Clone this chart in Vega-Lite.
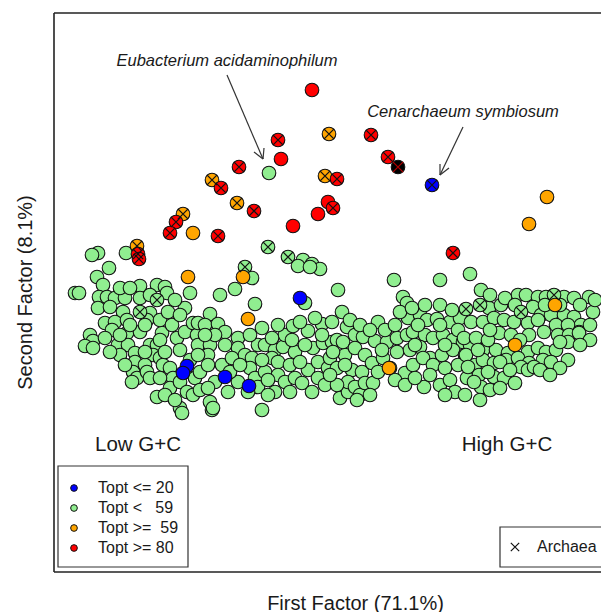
{
"$schema": "https://vega.github.io/schema/vega-lite/v6.json",
"width": 547, "height": 559,
"autosize": {"type": "none"},
"padding": {"left": 54, "top": 13, "right": 0, "bottom": 40},
"background": "white",
"config": {"view": {"stroke": null}, "axis": {"domain": false, "ticks": false, "labels": false, "grid": false, "titleFont": "Liberation Sans", "titleFontWeight": "normal", "titleColor": "#1a1a1a"}},
"datasets": {
"pts": [
{"x":-61,"y":127,"g":"g"},{"x":-62,"y":53,"g":"g","a":1},{"x":-42,"y":43,"g":"g","a":1},{"x":-85,"y":33,"g":"g","a":1},
{"x":-232,"y":47,"g":"g"},{"x":-238,"y":45,"g":"g"},{"x":-204,"y":47,"g":"g"},{"x":-27,"y":40,"g":"g"},{"x":-18,"y":36,"g":"g"},{"x":-10,"y":31,"g":"g"},{"x":-32,"y":34,"g":"g"},{"x":-20,"y":33,"g":"g"},
{"x":64,"y":20,"g":"g"},{"x":110,"y":20,"g":"g"},{"x":140,"y":26,"g":"g"},{"x":-78,"y":22,"g":"g"},{"x":-95,"y":11,"g":"g"},{"x":-110,"y":5,"g":"g"},{"x":-75,"y":-4,"g":"g"},{"x":-25,"y":-3,"g":"g"},{"x":73,"y":3,"g":"g"},{"x":77,"y":-3,"g":"g"},
{"x":-221,"y":32,"g":"g"},{"x":-233,"y":23,"g":"g"},{"x":-255,"y":7,"g":"g"},{"x":-251,"y":7,"g":"g"},{"x":-227,"y":15,"g":"g"},{"x":-231,"y":3,"g":"g"},{"x":-223,"y":3,"g":"g"},{"x":-215,"y":2,"g":"g"},{"x":-205,"y":2,"g":"g"},
{"x":-190,"y":14,"g":"g"},{"x":-173,"y":15,"g":"g"},{"x":-165,"y":13,"g":"g"},{"x":-163,"y":7,"g":"g"},{"x":-190,"y":2,"g":"g"},
{"x":-232,"y":-8,"g":"g"},{"x":-220,"y":-7,"g":"g"},{"x":-207,"y":-12,"g":"g"},{"x":-180,"y":-13,"g":"g"},{"x":-183,"y":-20,"g":"g"},
{"x":-225,"y":-23,"g":"g"},{"x":-215,"y":-22,"g":"g"},{"x":-203,"y":-20,"g":"g"},{"x":-240,"y":-35,"g":"g"},{"x":-237,"y":-41,"g":"g"},{"x":-245,"y":-46,"g":"g"},{"x":-237,"y":-48,"g":"g"},
{"x":-203,"y":-33,"g":"g"},{"x":-190,"y":-32,"g":"g"},{"x":-212,"y":-45,"g":"g"},{"x":-202,"y":-45,"g":"g"},{"x":-168,"y":-33,"g":"g"},{"x":-153,"y":-38,"g":"g"},{"x":-145,"y":-32,"g":"g"},
{"x":-140,"y":7,"g":"g"},{"x":-145,"y":-8,"g":"g"},{"x":-137,"y":-23,"g":"g"},{"x":-133,"y":-35,"g":"g"},
{"x":-195,"y":-53,"g":"g"},{"x":-195,"y":-62,"g":"g"},{"x":-197,"y":-72,"g":"g"},{"x":-193,"y":-78,"g":"g"},{"x":-198,"y":-82,"g":"g"},
{"x":-180,"y":-45,"g":"g"},{"x":-173,"y":-45,"g":"g"},{"x":-177,"y":-55,"g":"g"},{"x":-170,"y":-58,"g":"g"},{"x":-167,"y":-65,"g":"g"},{"x":-185,"y":-65,"g":"g"},{"x":-183,"y":-72,"g":"g"},{"x":-180,"y":-78,"g":"g"},
{"x":-160,"y":-68,"g":"g"},{"x":-157,"y":-78,"g":"g"},{"x":-160,"y":-88,"g":"g"},{"x":-150,"y":-82,"g":"g"},{"x":-143,"y":-92,"g":"g"},{"x":-137,"y":-95,"g":"g"},
{"x":-173,"y":-97,"g":"g"},{"x":-150,"y":-108,"g":"g"},{"x":-148,"y":-113,"g":"g"},{"x":-118,"y":-110,"g":"g"},{"x":-68,"y":-110,"g":"g"},
{"x":-218,"y":-30,"g":"g"},{"x":-210,"y":-35,"g":"g"},{"x":-225,"y":-38,"g":"g"},{"x":-200,"y":-25,"g":"g"},{"x":-185,"y":-25,"g":"g"},{"x":-170,"y":-20,"g":"g"},{"x":-158,"y":-25,"g":"g"},{"x":-162,"y":-12,"g":"g"},
{"x":-210,"y":12,"g":"g"},{"x":-200,"y":12,"g":"g"},{"x":-180,"y":5,"g":"g"},{"x":-155,"y":0,"g":"g"},{"x":-150,"y":-15,"g":"g"},{"x":-170,"y":-40,"g":"g"},{"x":-185,"y":-52,"g":"g"},{"x":-210,"y":-55,"g":"g"},
{"x":-220,"y":-52,"g":"g"},{"x":-205,"y":-65,"g":"g"},{"x":-165,"y":-52,"g":"g"},{"x":-150,"y":-50,"g":"g"},{"x":-140,"y":-60,"g":"g"},{"x":-145,"y":-72,"g":"g"},{"x":-135,"y":-78,"g":"g"},{"x":-170,"y":-78,"g":"g"},
{"x":-165,"y":-95,"g":"g"},{"x":-155,"y":-100,"g":"g"},{"x":-130,"y":-90,"g":"g"},{"x":-130,"y":-72,"g":"g"},{"x":-132,"y":-45,"g":"g"},{"x":-120,"y":-45,"g":"g"},
{"x":-120,"y":-14,"g":"g"},{"x":-132,"y":-23,"g":"g"},{"x":-125,"y":-25,"g":"g"},{"x":-112,"y":-24,"g":"g"},{"x":-105,"y":-32,"g":"g"},{"x":-115,"y":-35,"g":"g"},{"x":-125,"y":-35,"g":"g"},
{"x":-92,"y":-38,"g":"g"},{"x":-92,"y":-48,"g":"g"},{"x":-72,"y":-45,"g":"g"},{"x":-65,"y":-45,"g":"g"},{"x":-55,"y":-50,"g":"g"},{"x":-47,"y":-47,"g":"g"},{"x":-45,"y":-35,"g":"g"},{"x":-37,"y":-26,"g":"g"},{"x":-22,"y":-31,"g":"g"},{"x":-8,"y":-24,"g":"g"},{"x":2,"y":-22,"g":"g"},
{"x":-35,"y":-52,"g":"g"},{"x":-17,"y":-48,"g":"g"},{"x":-7,"y":-43,"g":"g"},{"x":2,"y":-42,"g":"g"},
{"x":-122,"y":-55,"g":"g"},{"x":-132,"y":-55,"g":"g"},{"x":-122,"y":-65,"g":"g"},{"x":-108,"y":-65,"g":"g"},{"x":-98,"y":-58,"g":"g"},{"x":-85,"y":-55,"g":"g"},{"x":-78,"y":-58,"g":"g"},{"x":-58,"y":-58,"g":"g"},{"x":-52,"y":-62,"g":"g"},
{"x":-80,"y":-68,"g":"g"},{"x":-75,"y":-78,"g":"g"},{"x":-65,"y":-72,"g":"g"},{"x":-52,"y":-75,"g":"g"},{"x":-45,"y":-82,"g":"g"},{"x":-35,"y":-78,"g":"g"},{"x":-28,"y":-83,"g":"g"},{"x":-22,"y":-70,"g":"g"},{"x":-12,"y":-62,"g":"g"},{"x":-2,"y":-68,"g":"g"},
{"x":-92,"y":-82,"g":"g"},{"x":-115,"y":-82,"g":"g"},{"x":-122,"y":-88,"g":"g"},{"x":-102,"y":-92,"g":"g"},{"x":-72,"y":-87,"g":"g"},{"x":-55,"y":-92,"g":"g"},{"x":-120,"y":-102,"g":"g"},{"x":-117,"y":-108,"g":"g"},
{"x":-105,"y":-45,"g":"g"},{"x":-100,"y":-72,"g":"g"},{"x":-90,"y":-65,"g":"g"},{"x":-82,"y":-92,"g":"g"},{"x":-68,"y":-60,"g":"g"},{"x":-62,"y":-80,"g":"g"},{"x":-62,"y":-95,"g":"g"},{"x":-40,"y":-65,"g":"g"},{"x":-30,"y":-62,"g":"g"},
{"x":-40,"y":-92,"g":"g"},{"x":-18,"y":-92,"g":"g"},{"x":-12,"y":-78,"g":"g"},{"x":-5,"y":-85,"g":"g"},{"x":0,"y":-58,"g":"g"},{"x":-25,"y":-45,"g":"g"},{"x":-38,"y":-40,"g":"g"},{"x":-58,"y":-38,"g":"g"},{"x":-80,"y":-35,"g":"g"},
{"x":-68,"y":-28,"g":"g"},{"x":-52,"y":-25,"g":"g"},{"x":-30,"y":-22,"g":"g"},{"x":-15,"y":-18,"g":"g"},{"x":-8,"y":-35,"g":"g"},{"x":15,"y":-55,"g":"g"},{"x":22,"y":-70,"g":"g"},{"x":32,"y":-72,"g":"g"},{"x":10,"y":-98,"g":"g"},{"x":18,"y":-92,"g":"g"},
{"x":8,"y":10,"g":"g"},{"x":12,"y":-12,"g":"g"},{"x":17,"y":-27,"g":"g"},{"x":7,"y":-40,"g":"g"},{"x":13,"y":-42,"g":"g"},{"x":48,"y":-22,"g":"g"},
{"x":78,"y":-18,"g":"g"},{"x":90,"y":-15,"g":"g"},{"x":97,"y":-20,"g":"g"},{"x":107,"y":-19,"g":"g"},{"x":120,"y":-22,"g":"g"},{"x":130,"y":-18,"g":"g"},
{"x":25,"y":-35,"g":"g"},{"x":33,"y":-37,"g":"g"},{"x":45,"y":-41,"g":"g"},{"x":57,"y":-42,"g":"g"},{"x":67,"y":-38,"g":"g"},{"x":77,"y":-35,"g":"g"},{"x":83,"y":-32,"g":"g"},{"x":95,"y":-35,"g":"g"},{"x":103,"y":-38,"g":"g"},{"x":113,"y":-35,"g":"g"},{"x":123,"y":-40,"g":"g"},{"x":133,"y":-42,"g":"g"},
{"x":3,"y":-52,"g":"g"},{"x":7,"y":-68,"g":"g"},{"x":15,"y":-65,"g":"g"},{"x":25,"y":-48,"g":"g"},{"x":35,"y":-55,"g":"g"},{"x":42,"y":-63,"g":"g"},{"x":53,"y":-58,"g":"g"},{"x":67,"y":-52,"g":"g"},{"x":80,"y":-50,"g":"g"},{"x":90,"y":-47,"g":"g"},{"x":100,"y":-58,"g":"g"},{"x":112,"y":-55,"g":"g"},{"x":123,"y":-50,"g":"g"},{"x":135,"y":-55,"g":"g"},
{"x":18,"y":-82,"g":"g"},{"x":25,"y":-87,"g":"g"},{"x":30,"y":-95,"g":"g"},{"x":27,"y":-100,"g":"g"},{"x":35,"y":-83,"g":"g"},{"x":43,"y":-83,"g":"g"},{"x":75,"y":-73,"g":"g"},{"x":83,"y":-65,"g":"g"},{"x":93,"y":-58,"g":"g"},{"x":103,"y":-65,"g":"g"},{"x":115,"y":-68,"g":"g"},{"x":128,"y":-65,"g":"g"},{"x":137,"y":-78,"g":"g"},
{"x":7,"y":-85,"g":"g"},{"x":0,"y":-75,"g":"g"},{"x":94,"y":-87,"g":"g"},
{"x":20,"y":-20,"g":"g"},{"x":30,"y":-25,"g":"g"},{"x":40,"y":-30,"g":"g"},{"x":55,"y":-30,"g":"g"},{"x":65,"y":-25,"g":"g"},{"x":70,"y":-12,"g":"g"},{"x":82,"y":-8,"g":"g"},{"x":95,"y":-5,"g":"g"},{"x":110,"y":-5,"g":"g"},{"x":122,"y":-10,"g":"g"},
{"x":110,"y":-25,"g":"g"},{"x":88,"y":-25,"g":"g"},{"x":52,"y":-50,"g":"g"},{"x":60,"y":-68,"g":"g"},{"x":65,"y":-80,"g":"g"},{"x":75,"y":-85,"g":"g"},{"x":85,"y":-78,"g":"g"},{"x":100,"y":-75,"g":"g"},{"x":110,"y":-85,"g":"g"},{"x":120,"y":-80,"g":"g"},
{"x":125,"y":-92,"g":"g"},{"x":115,"y":-95,"g":"g"},{"x":48,"y":-72,"g":"g"},{"x":40,"y":-95,"g":"g"},{"x":85,"y":-45,"g":"g"},{"x":115,"y":-45,"g":"g"},{"x":128,"y":-30,"g":"g"},{"x":140,"y":-45,"g":"g"},{"x":145,"y":-65,"g":"g"},
{"x":151,"y":10,"g":"g"},{"x":188,"y":5,"g":"g"},{"x":196,"y":5,"g":"g"},{"x":208,"y":3,"g":"g"},{"x":216,"y":3,"g":"g"},{"x":234,"y":3,"g":"g"},{"x":244,"y":2,"g":"g"},{"x":259,"y":3,"g":"g"},{"x":263,"y":-12,"g":"g"},
{"x":159,"y":-8,"g":"g"},{"x":171,"y":-5,"g":"g"},{"x":203,"y":-7,"g":"g"},{"x":211,"y":-15,"g":"g"},{"x":221,"y":-15,"g":"g"},{"x":234,"y":-15,"g":"g"},{"x":244,"y":-17,"g":"g"},{"x":251,"y":-25,"g":"g"},{"x":249,"y":-32,"g":"g"},
{"x":141,"y":-22,"g":"g"},{"x":153,"y":-22,"g":"g"},{"x":164,"y":-18,"g":"g"},{"x":174,"y":-20,"g":"g"},{"x":184,"y":-22,"g":"g"},{"x":198,"y":-23,"g":"g"},{"x":208,"y":-20,"g":"g"},{"x":226,"y":-25,"g":"g"},{"x":238,"y":-25,"g":"g"},
{"x":134,"y":-38,"g":"g"},{"x":146,"y":-38,"g":"g"},{"x":169,"y":-33,"g":"g"},{"x":181,"y":-35,"g":"g"},{"x":199,"y":-35,"g":"g"},{"x":214,"y":-32,"g":"g"},{"x":228,"y":-35,"g":"g"},{"x":239,"y":-35,"g":"g"},{"x":249,"y":-33,"g":"g"},
{"x":136,"y":-55,"g":"g"},{"x":153,"y":-50,"g":"g"},{"x":166,"y":-50,"g":"g"},{"x":178,"y":-53,"g":"g"},{"x":198,"y":-52,"g":"g"},{"x":208,"y":-48,"g":"g"},{"x":216,"y":-52,"g":"g"},{"x":226,"y":-50,"g":"g"},{"x":238,"y":-42,"g":"g"},
{"x":138,"y":-67,"g":"g"},{"x":153,"y":-60,"g":"g"},{"x":164,"y":-63,"g":"g"},{"x":176,"y":-60,"g":"g"},{"x":188,"y":-58,"g":"g"},{"x":199,"y":-63,"g":"g"},{"x":213,"y":-60,"g":"g"},{"x":221,"y":-62,"g":"g"},{"x":238,"y":-60,"g":"g"},
{"x":149,"y":-75,"g":"g"},{"x":164,"y":-77,"g":"g"},{"x":174,"y":-78,"g":"g"},{"x":191,"y":-67,"g":"g"},{"x":198,"y":-70,"g":"g"},{"x":204,"y":-67,"g":"g"},{"x":151,"y":-87,"g":"g"},{"x":144,"y":-82,"g":"g"},
{"x":160,"y":5,"g":"g"},{"x":175,"y":2,"g":"g"},{"x":185,"y":-5,"g":"g"},{"x":215,"y":-5,"g":"g"},{"x":230,"y":-5,"g":"g"},{"x":250,"y":-5,"g":"g"},{"x":265,"y":0,"g":"g"},{"x":260,"y":-25,"g":"g"},{"x":260,"y":-40,"g":"g"},
{"x":250,"y":-45,"g":"g"},{"x":230,"y":-42,"g":"g"},{"x":190,"y":-40,"g":"g"},{"x":158,"y":-40,"g":"g"},{"x":160,"y":-30,"g":"g"},{"x":148,"y":-50,"g":"g"},{"x":170,"y":-62,"g":"g"},{"x":180,"y":-70,"g":"g"},{"x":210,"y":-70,"g":"g"},
{"x":230,"y":-68,"g":"g"},{"x":220,"y":-75,"g":"g"},{"x":158,"y":-72,"g":"g"},{"x":185,"y":-83,"g":"g"},{"x":160,"y":-90,"g":"g"},{"x":170,"y":-88,"g":"g"},{"x":135,"y":-95,"g":"g"},{"x":150,"y":-100,"g":"g"},
{"x":-173,"y":0,"g":"g","a":1},{"x":-190,"y":-12,"g":"g","a":1},{"x":136,"y":-9,"g":"g","a":1},{"x":150,"y":-5,"g":"g","a":1},{"x":224,"y":5,"g":"g","a":1},{"x":191,"y":-12,"g":"g","a":1},
{"x":-18,"y":210,"g":"r"},{"x":-1,"y":166,"g":"o","a":1},{"x":-52,"y":160,"g":"r","a":1},{"x":-49,"y":141,"g":"r"},{"x":-91,"y":133,"g":"r","a":1},{"x":-118,"y":120,"g":"o","a":1},{"x":-109,"y":112,"g":"r","a":1},
{"x":-5,"y":124,"g":"o","a":1},{"x":7,"y":121,"g":"r","a":1},{"x":-93,"y":97,"g":"o","a":1},{"x":-76,"y":89,"g":"r","a":1},{"x":-2,"y":98,"g":"r"},{"x":3,"y":92,"g":"r","a":1},{"x":-12,"y":86,"g":"r"},{"x":-37,"y":74,"g":"r"},
{"x":-147,"y":86,"g":"o","a":1},{"x":-154,"y":78,"g":"r","a":1},{"x":-160,"y":67,"g":"r","a":1},{"x":-137,"y":67,"g":"o"},{"x":-112,"y":64,"g":"r","a":1},{"x":-193,"y":54,"g":"o","a":1},{"x":-192,"y":46,"g":"r","a":1},{"x":-191,"y":41,"g":"r","a":1},
{"x":41,"y":165,"g":"r","a":1},{"x":58,"y":143,"g":"r","a":1},{"x":68,"y":133,"g":"k","a":1},{"x":102,"y":115,"g":"b","a":1},{"x":217,"y":103,"g":"o"},{"x":199,"y":76,"g":"o"},{"x":123,"y":47,"g":"r","a":1},
{"x":-87,"y":23,"g":"o"},{"x":-142,"y":23,"g":"o"},{"x":-30,"y":2,"g":"b"},{"x":-82,"y":-19,"g":"o"},{"x":-143,"y":-66,"g":"b"},{"x":-147,"y":-73,"g":"b"},{"x":-105,"y":-77,"g":"b"},{"x":-81,"y":-86,"g":"b"},
{"x":225,"y":-5,"g":"o"},{"x":185,"y":-45,"g":"o"},{"x":59,"y":-68,"g":"o"}
]
},
"encoding": {
"x": {"field": "x", "type": "quantitative", "scale": {"domain": [-276, 271], "nice": false, "zero": false}, "axis": {"title": "First Factor (71.1%)", "titleFontSize": 20, "titleX": 301, "titleY": 31, "titleBaseline": "middle", "titleAlign": "center"}},
"y": {"field": "y", "type": "quantitative", "scale": {"domain": [-272, 287], "nice": false, "zero": false}, "axis": {"title": "Second Factor (8.1%)", "titleFontSize": 20, "titleX": -29, "titleY": 279, "titleBaseline": "middle", "titleAlign": "center", "titleAngle": -90}}
},
"layer": [
{"data": {"values": [{"x":-276,"y":287,"x2":330,"y2":287},{"x":-276,"y":-272,"x2":330,"y2":-272},{"x":-276,"y":-272,"x2":-276,"y2":287}]},
 "mark": {"type": "rule", "stroke": "#222", "strokeWidth": 1.6},
 "encoding": {"x2": {"field": "x2"}, "y2": {"field": "y2"}}},
{"data": {"name": "pts"},
 "mark": {"type": "point", "filled": true, "size": 185, "stroke": "#111", "strokeWidth": 1.1, "opacity": 1},
 "encoding": {"color": {"field": "g", "type": "nominal", "scale": {"domain": ["b","g","o","r","k"], "range": ["#0000FF","#90EE90","#FFA500","#FF0000","#000000"]}, "legend": null}}},
{"data": {"name": "pts"},
 "transform": [{"filter": "datum.a == 1"}],
 "mark": {"type": "point", "shape": "M-1,-1L1,1M-1,1L1,-1", "filled": false, "size": 105, "strokeWidth": 1.3, "opacity": 1},
 "encoding": {"stroke": {"condition": {"test": "datum.g === 'k'", "value": "#b00000"}, "value": "#111"}}},
{"data": {"values": [{"x":-103,"y":225,"x2":-67,"y2":141},{"x":-67,"y":141,"x2":-66,"y2":152},{"x":-67,"y":141,"x2":-76,"y2":148},{"x":133,"y":173,"x2":110,"y2":125},{"x":110,"y":125,"x2":119,"y2":132},{"x":110,"y":125,"x2":110,"y2":136}]},
 "mark": {"type": "rule", "stroke": "#333", "strokeWidth": 1.2},
 "encoding": {"x2": {"field": "x2"}, "y2": {"field": "y2"}}},
{"data": {"values": [{"x":-103,"y":239,"t":"Eubacterium acidaminophilum"},{"x":133,"y":188,"t":"Cenarchaeum symbiosum"}]},
 "mark": {"type": "text", "font": "Liberation Sans", "fontStyle": "italic", "fontSize": 16.5, "color": "#1a1a1a", "align": "center", "baseline": "middle"},
 "encoding": {"text": {"field": "t"}}},
{"data": {"values": [{"x":-192,"y":-145,"t":"Low G+C"},{"x":177,"y":-145,"t":"High G+C"}]},
 "mark": {"type": "text", "font": "Liberation Sans", "fontSize": 20.5, "color": "#1a1a1a", "align": "center", "baseline": "middle"},
 "encoding": {"text": {"field": "t"}}},
{"data": {"values": [{"x":-272,"y":-166,"x2":-142,"y2":-267},{"x":170,"y":-227,"x2":320,"y2":-267}]},
 "mark": {"type": "rect", "fill": "white", "stroke": "#333", "strokeWidth": 1.2},
 "encoding": {"x2": {"field": "x2"}, "y2": {"field": "y2"}}},
{"data": {"values": [{"x":-256,"y":-188,"g":"b"},{"x":-256,"y":-208,"g":"g"},{"x":-256,"y":-228,"g":"o"},{"x":-256,"y":-248,"g":"r"}]},
 "mark": {"type": "point", "filled": true, "size": 45, "stroke": "#111", "strokeWidth": 1, "opacity": 1},
 "encoding": {"color": {"field": "g", "type": "nominal", "legend": null}}},
{"data": {"values": [{"x":-232,"y":-188,"t":"Topt <= 20"},{"x":-232,"y":-208,"t":"Topt <\u00a0\u00a0\u00a059"},{"x":-232,"y":-228,"t":"Topt >=\u00a0\u00a059"},{"x":-232,"y":-248,"t":"Topt >= 80"}]},
 "mark": {"type": "text", "font": "Liberation Sans", "fontSize": 16, "color": "#1a1a1a", "align": "left", "baseline": "middle"},
 "encoding": {"text": {"field": "t"}}},
{"data": {"values": [{"x":185,"y":-247}]},
 "mark": {"type": "point", "shape": "M-1,-1L1,1M-1,1L1,-1", "filled": false, "size": 70, "strokeWidth": 1.2, "stroke": "#111", "opacity": 1}},
{"data": {"values": [{"x":207,"y":-247,"t":"Archaea"}]},
 "mark": {"type": "text", "font": "Liberation Sans", "fontSize": 16, "color": "#1a1a1a", "align": "left", "baseline": "middle"},
 "encoding": {"text": {"field": "t"}}}
]
}
